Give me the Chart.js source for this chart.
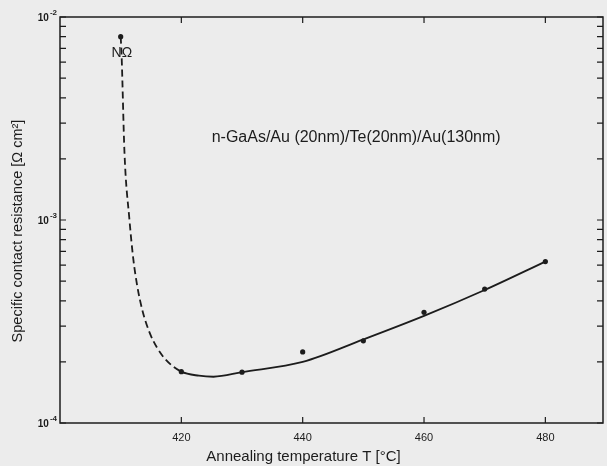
<!DOCTYPE html>
<html lang="en">
<head>
<meta charset="UTF-8">
<title>Specific contact resistance vs annealing temperature</title>
<style>
    html, body {
        margin: 0;
        padding: 0;
        background: #ececec;
        overflow: hidden;
    }
    .chart {
        position: relative;
        width: 607px;
        height: 466px;
    }
</style>
<script src="https://cdn.jsdelivr.net/npm/chart.js"></script>
</head>
<body>
<div class="chart"><canvas id="myChart"></canvas></div>
<script>
    // measured points (dots)
    const measuredT = [410, 420, 430, 440, 450, 460, 470, 480];
    const measuredR = [8.0e-3, 1.79e-4, 1.78e-4, 2.24e-4, 2.54e-4, 3.51e-4, 4.57e-4, 6.24e-4];

    // hand drawn curve through them, dashed below 420
    const curveT = [410, 410.14, 410.63, 411.45, 412.1, 412.76, 413.57, 414.72, 416.03, 417.5, 420, 422.9, 425.3, 430, 440, 450, 460, 470, 480];
    const curveR = [8.0e-3, 6.65e-3, 2.14e-3, 1.0e-3, 6.36e-4, 4.68e-4, 3.6e-4, 2.81e-4, 2.34e-4, 2.04e-4, 1.79e-4, 1.71e-4, 1.69e-4, 1.78e-4, 2.0e-4, 2.58e-4, 3.37e-4, 4.52e-4, 6.24e-4];
    const dashedUpTo = 420;

    const xTicks = [420, 440, 460, 480];
    const yTicks = [1e-4, 2e-4, 3e-4, 4e-4, 5e-4, 6e-4, 7e-4, 8e-4, 9e-4,
                    1e-3, 2e-3, 3e-3, 4e-3, 5e-3, 6e-3, 7e-3, 8e-3, 9e-3, 1e-2];
    const yDecades = [1e-4, 1e-3, 1e-2];
    const yExponents = ['-4', '-3', '-2'];

    const xTitle = 'Annealing temperature T [°C]';
    const yTitle = 'Specific contact resistance [Ω cm²]';
    const sampleLabel = 'n-GaAs/Au (20nm)/Te(20nm)/Au(130nm)';
    const pointLabel = 'NΩ';

    const INK = '#1c1c1c';
    const FONT = '"Liberation Sans", Arial, sans-serif';

    // box around the plot with short inward ticks on all four sides, plus the texts
    const frame = {
        id: 'frame',
        afterDraw(chart) {
            const {ctx, chartArea: a, scales: {x, y}} = chart;
            ctx.save();
            ctx.strokeStyle = INK;
            ctx.lineWidth = 1.5;
            ctx.strokeRect(a.left, a.top, a.right - a.left, a.bottom - a.top);
            ctx.lineWidth = 1.2;
            ctx.beginPath();
            xTicks.forEach(v => {
                const px = x.getPixelForValue(v);
                ctx.moveTo(px, a.bottom); ctx.lineTo(px, a.bottom - 6);
                ctx.moveTo(px, a.top); ctx.lineTo(px, a.top + 6);
            });
            yTicks.forEach(v => {
                const py = y.getPixelForValue(v);
                ctx.moveTo(a.left, py); ctx.lineTo(a.left + 6, py);
                ctx.moveTo(a.right, py); ctx.lineTo(a.right - 6, py);
            });
            ctx.stroke();

            ctx.fillStyle = INK;
            // decade labels 10^n
            ctx.textBaseline = 'middle';
            ctx.textAlign = 'right';
            yDecades.forEach((v, i) => {
                const py = y.getPixelForValue(v);
                ctx.font = 'bold 8px ' + FONT;
                const ew = ctx.measureText(yExponents[i]).width;
                ctx.fillText(yExponents[i], a.left - 3, py - 4);
                ctx.font = 'bold 10px ' + FONT;
                ctx.fillText('10', a.left - 4 - ew, py + 1);
            });

            // axis titles
            ctx.textAlign = 'center';
            ctx.font = '15px ' + FONT;
            ctx.fillText(xTitle, chart.width / 2, 457);
            ctx.save();
            ctx.translate(18, 231);
            ctx.rotate(-Math.PI / 2);
            ctx.font = '14.5px ' + FONT;
            ctx.fillText(yTitle, 0, 0);
            ctx.restore();

            ctx.font = '14px ' + FONT;
            ctx.fillText(pointLabel, x.getPixelForValue(410.2), y.getPixelForValue(6.6e-3));
            ctx.textAlign = 'left';
            ctx.font = '16px ' + FONT;
            ctx.fillText(sampleLabel, x.getPixelForValue(425), y.getPixelForValue(2.56e-3));
            ctx.restore();
        }
    };

    const ctx = document.getElementById('myChart');
    const myChart = new Chart(ctx, {
        type: 'scatter',
        data: {
            datasets: [
                {
                    label: 'measured',
                    data: measuredT.map((t, i) => ({x: t, y: measuredR[i]})),
                    showLine: false,
                    pointRadius: 2.6,
                    backgroundColor: INK,
                    borderColor: INK,
                    borderWidth: 0,
                },
                {
                    label: 'curve',
                    data: curveT.map((t, i) => ({x: t, y: curveR[i]})),
                    showLine: true,
                    pointRadius: 0,
                    borderColor: INK,
                    borderWidth: 1.8,
                    cubicInterpolationMode: 'monotone',
                    segment: {
                        borderDash: c => c.p1.parsed.x <= dashedUpTo ? [7, 4] : undefined,
                    },
                }
            ]
        },
        options: {
            responsive: true,
            maintainAspectRatio: false,
            animation: false,
            layout: {padding: {top: 17, right: 1, left: 0, bottom: 0}},
            plugins: {
                legend: {display: false},
                tooltip: {enabled: false},
            },
            scales: {
                x: {
                    type: 'linear',
                    min: 400,
                    max: 489.5,
                    grid: {display: false, drawTicks: false},
                    border: {display: false},
                    afterBuildTicks: s => { s.ticks = xTicks.map(v => ({value: v})); },
                    afterFit: s => { s.height = 43; },
                    ticks: {
                        color: INK,
                        padding: 8,
                        font: {family: FONT, size: 11},
                        callback: v => String(v),
                    },
                },
                y: {
                    type: 'logarithmic',
                    min: 1e-4,
                    max: 1e-2,
                    grid: {display: false, drawTicks: false},
                    border: {display: false},
                    afterBuildTicks: s => { s.ticks = yTicks.map(v => ({value: v})); },
                    afterFit: s => { s.width = 60; },
                    ticks: {display: false},
                }
            }
        },
        plugins: [frame]
    });
</script>
</body>
</html>
